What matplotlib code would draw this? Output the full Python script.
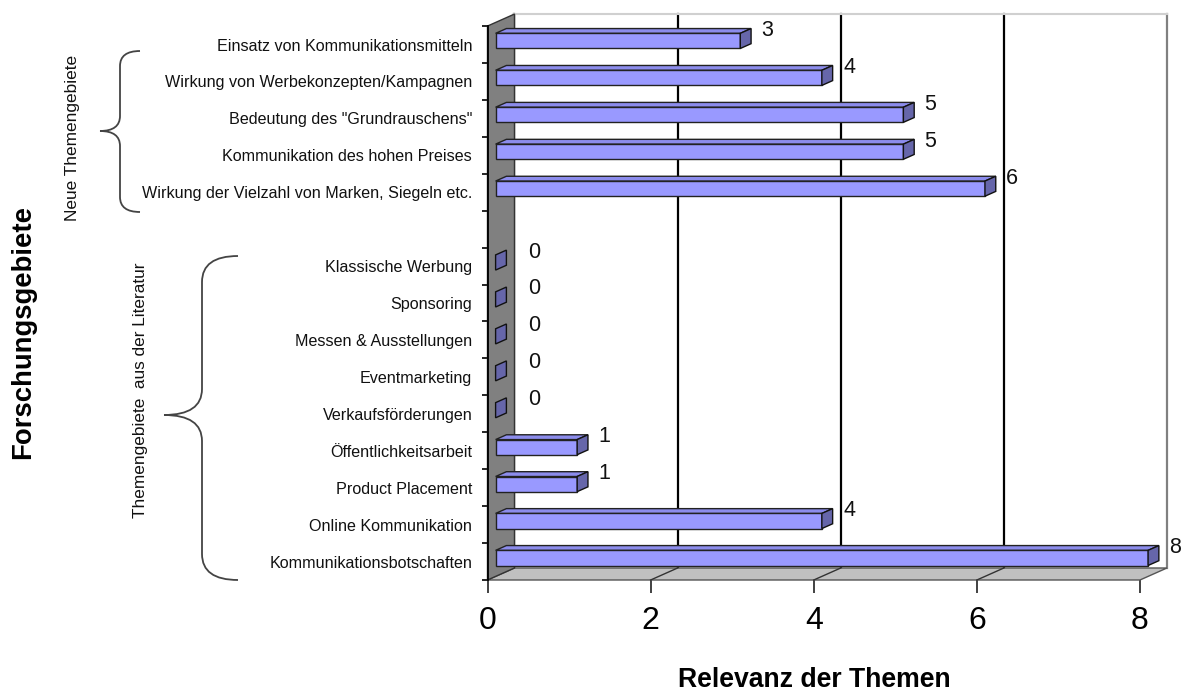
import matplotlib
matplotlib.use("Agg")
import matplotlib.pyplot as plt
from matplotlib.patches import Polygon, PathPatch
from matplotlib.path import Path
import matplotlib.transforms as mtransforms

plt.rcParams['font.family'] = ['Liberation Sans', 'DejaVu Sans']

# ---------------- data ----------------
categories = [
    "Einsatz von Kommunikationsmitteln",
    "Wirkung von Werbekonzepten/Kampagnen",
    'Bedeutung des "Grundrauschens"',
    "Kommunikation des hohen Preises",
    "Wirkung der Vielzahl von Marken, Siegeln etc.",
    "",
    "Klassische Werbung",
    "Sponsoring",
    "Messen & Ausstellungen",
    "Eventmarketing",
    "Verkaufsförderungen",
    "Öffentlichkeitsarbeit",
    "Product Placement",
    "Online Kommunikation",
    "Kommunikationsbotschaften",
]
values = [3, 4, 5, 5, 6, None, 0, 0, 0, 0, 0, 1, 1, 4, 8]
x_ticks = [0, 2, 4, 6, 8]
group_labels = ["Neue Themengebiete", "Themengebiete  aus der Literatur"]
x_title = "Relevanz der Themen"
y_title = "Forschungsgebiete"

# ---------------- style / geometry ----------------
W, H = 1187, 691
fig = plt.figure(figsize=(W / 100, H / 100), dpi=100)
fig.patch.set_facecolor("white")

xmax_view = 8.55
ymin_view = -0.5
n = len(categories)
ax = fig.add_axes([487.5 / W, (H - 580) / H, xmax_view * 81.56 / W, (n - ymin_view) * 36.93 / H])
ax.set_xlim(0, xmax_view)
ax.set_ylim(n, ymin_view)
for s in ax.spines.values():
    s.set_visible(False)
ax.patch.set_alpha(0)

dx, dy = 0.331, 0.325     # depth offset (value units, slot units)
vmax = max(x_ticks)

def off(x, y, f):
    return (x + f * dx, y - f * dy)

# back wall gridlines
for t in x_ticks:
    col = "#808080" if t == vmax else "black"
    ax.plot([t + dx, t + dx], [-dy, n - dy], color=col, lw=1.6, zorder=1, clip_on=False)
# top border of back wall
ax.plot([dx, vmax + dx], [-dy, -dy], color="#d0d0d0", lw=1.5, zorder=1, clip_on=False)

# floor
floor = Polygon([(0, n), (vmax, n), (vmax + dx, n - dy), (dx, n - dy)], closed=True,
                facecolor="#c0c0c0", edgecolor="#555555", lw=1.0, zorder=2, clip_on=False)
ax.add_patch(floor)
for t in x_ticks[1:-1]:
    ax.plot([t, t + dx], [n, n - dy], color="#333333", lw=1.0, zorder=2.5, clip_on=False)

# side wall
wall = Polygon([(0, 0), (dx, -dy), (dx, n - dy), (0, n)], closed=True,
               facecolor="#808080", edgecolor="#333333", lw=1.0, zorder=2, clip_on=False)
ax.add_patch(wall)
ax.plot([0, 0], [0, n], color="black", lw=1.3, zorder=3, clip_on=False)

# bars
f1, f2 = 0.3, 0.7
bh = 0.41
c_front, c_top, c_end = "#9999ff", "#8c8cec", "#6666aa"
for i, v in enumerate(values):
    if v is None:
        continue
    yt = i + 0.5 - bh / 2
    yb = i + 0.5 + bh / 2
    fl = off(0, yt, f1); fr = off(v, yt, f1)
    bl = off(0, yb, f1); br = off(v, yb, f1)
    kl = off(0, yt, f2); kr = off(v, yt, f2)
    krb = off(v, yb, f2)
    z = 4 + i * 0.01
    if v > 0:
        ax.add_patch(Polygon([fl, fr, kr, kl], closed=True, facecolor=c_top,
                             edgecolor="#222222", lw=1.0, zorder=z, clip_on=False))
        ax.add_patch(Polygon([fl, fr, br, bl], closed=True, facecolor=c_front,
                             edgecolor="#222222", lw=1.0, zorder=z, clip_on=False))
    ax.add_patch(Polygon([fr, kr, krb, br], closed=True, facecolor=c_end,
                         edgecolor="#111111", lw=1.0, zorder=z + 0.001, clip_on=False))
    lx = v + 0.36 + (0.14 if v == 0 else 0)
    ax.text(lx, i + 0.5 - 0.38, str(v), fontsize=15.5, ha="left", va="center",
            color="#111111", zorder=6, clip_on=False)

# axes ticks
ax.set_xticks(x_ticks)
ax.set_xticklabels([str(t) for t in x_ticks], fontsize=23)
ax.tick_params(axis="x", length=9, width=1.3, color="#333333", pad=10)
ax.set_yticks(range(n + 1))
ax.set_yticklabels([])
ax.tick_params(axis="y", which="major", length=4, width=1.2, color="black")
ax.set_yticks([i + 0.5 for i in range(n)], minor=True)
ax.set_yticklabels(categories, minor=True, fontsize=11.6, color="#111111")
ax.tick_params(axis="y", which="minor", length=0, pad=11)

# titles
fig.text(814 / W, 1 - 680 / H, x_title, fontsize=19.2, fontweight="bold",
         ha="center", va="center")
fig.text(23 / W, 1 - 332 / H, y_title, fontsize=19.8, fontweight="bold",
         ha="center", va="center", rotation=90)

# group labels
fig.text(73 / W, 1 - 138 / H, group_labels[0], fontsize=12.4, ha="center",
         va="center", rotation=90, color="#111111")
fig.text(140 / W, 1 - 390 / H, group_labels[1], fontsize=12.4, ha="center",
         va="center", rotation=90, color="#111111")

# braces (pixel coordinates -> figure)
pix = mtransforms.Affine2D().scale(1 / W, -1 / H).translate(0, 1) + fig.transFigure

def brace(xe, xv, xc, yt, ym, yb, r):
    verts = [(xe, yt), (xv, yt), (xv, yt + r),
             (xv, ym - r), (xv, ym), (xc, ym),
             (xv, ym), (xv, ym + r),
             (xv, yb - r), (xv, yb), (xe, yb)]
    codes = [Path.MOVETO, Path.CURVE3, Path.CURVE3,
             Path.LINETO, Path.CURVE3, Path.CURVE3,
             Path.CURVE3, Path.CURVE3,
             Path.LINETO, Path.CURVE3, Path.CURVE3]
    p = PathPatch(Path(verts, codes), facecolor="none", edgecolor="#444444",
                  lw=1.3, transform=pix)
    fig.add_artist(p)

brace(140, 120, 100, 51, 131, 212, 15)
brace(238, 202, 164, 256, 415, 580, 26)

fig.savefig("out.png", dpi=100)
